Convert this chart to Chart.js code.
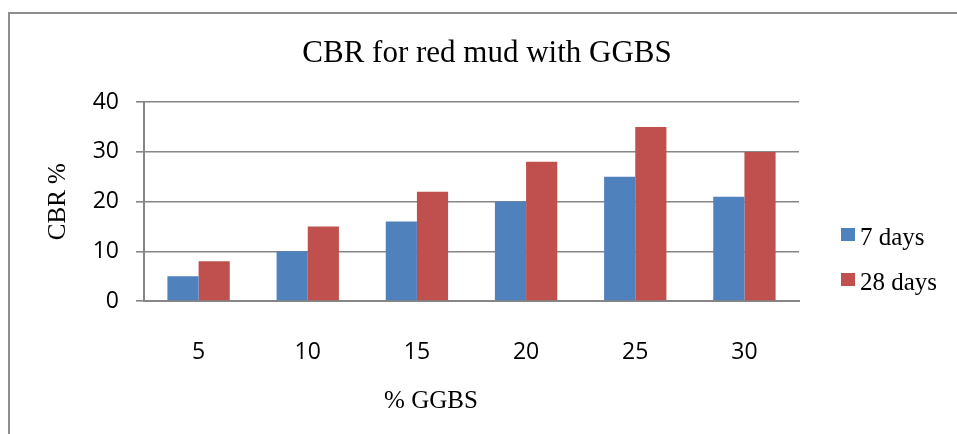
<!DOCTYPE html>
<html>
<head>
<meta charset="utf-8">
<script src="https://cdn.jsdelivr.net/npm/chart.js@4/dist/chart.umd.min.js"></script>
<style>
  html, body { margin: 0; padding: 0; background: #ffffff; }
  #wrap { position: relative; width: 957px; height: 434px; overflow: hidden; }
  #frame { position: absolute; left: 8px; top: 12px; width: 960px; height: 440px;
           border-top: 2px solid #8e8e8e; border-left: 2px solid #8e8e8e; }
  #c { position: absolute; left: 0; top: 0; }
</style>
</head>
<body>
<div id="wrap">
  <div id="frame"></div>
  <canvas id="c" width="957" height="434"></canvas>
</div>
<script>
// GGBS content (%) on the x axis
const categories = ['5', '10', '15', '20', '25', '30'];
// CBR (%) after curing
const cbr7Days = [5, 10, 16, 20, 25, 21];
const cbr28Days = [8, 15, 22, 28, 35, 30];
const seriesNames = ['7 days', '28 days'];
const yTicks = [0, 10, 20, 30, 40];

const SERIF = "'Liberation Serif', 'Times New Roman', serif";
const SANS = "'Open Sans', 'Liberation Sans', sans-serif";
const GRID = '#868686';

// Draws the side legend and the x-axis caption
const extras = {
  id: 'extras',
  afterDraw(chart) {
    const ctx = chart.ctx;
    ctx.save();
    ctx.font = '25px ' + SERIF;
    ctx.fillStyle = '#000';
    ctx.textBaseline = 'alphabetic';
    ctx.textAlign = 'left';
    chart.data.datasets.forEach((ds, i) => {
      const y = 228 + 45 * i;
      ctx.fillStyle = ds.backgroundColor;
      ctx.fillRect(841, y, 14, 13);
      ctx.fillStyle = '#000';
      ctx.fillText(ds.label, 860, y + 17);
    });
    ctx.textAlign = 'center';
    ctx.fillText('% GGBS', 431, 408);
    ctx.restore();
  }
};

new Chart(document.getElementById('c'), {
  type: 'bar',
  data: {
    labels: categories,
    datasets: [
      { label: seriesNames[0], data: cbr7Days, backgroundColor: '#4F81BD', borderWidth: 0 },
      { label: seriesNames[1], data: cbr28Days, backgroundColor: '#C0504D', borderWidth: 0 }
    ]
  },
  options: {
    responsive: false,
    animation: false,
    layout: { padding: { left: 17, right: 0, top: 0, bottom: 0 } },
    datasets: { bar: { categoryPercentage: 0.571, barPercentage: 1.0 } },
    plugins: {
      legend: { display: false },
      tooltip: { enabled: false },
      title: {
        display: true,
        text: 'CBR for red mud with GGBS',
        color: '#000',
        font: { family: SERIF, size: 31, weight: 'normal' },
        padding: { top: 35, bottom: 30 }
      }
    },
    scales: {
      x: {
        grid: { display: false },
        border: { display: true, color: GRID, width: 2 },
        ticks: { color: '#000', font: { family: SANS, size: 23 }, padding: 30 },
        afterFit(scale) { scale.height = 133; }
      },
      y: {
        min: 0,
        max: 40,
        afterBuildTicks(scale) { scale.ticks = yTicks.map(v => ({ value: v })); },
        grid: { color: GRID, lineWidth: 1.6, tickLength: 8, drawTicks: true },
        border: { display: true, color: GRID, width: 2 },
        ticks: { color: '#000', font: { family: SANS, size: 23 }, padding: 17 },
        title: {
          display: true,
          text: 'CBR %',
          color: '#000',
          font: { family: SERIF, size: 25, weight: 'normal' },
          padding: { top: 26, bottom: 0 }
        },
        afterFit(scale) { scale.width = 127; }
      },
      side: {
        position: 'right',
        display: true,
        grid: { display: false },
        border: { display: false },
        ticks: { display: false },
        afterFit(scale) { scale.width = 158; }
      }
    }
  },
  plugins: [extras]
});
</script>
</body>
</html>
